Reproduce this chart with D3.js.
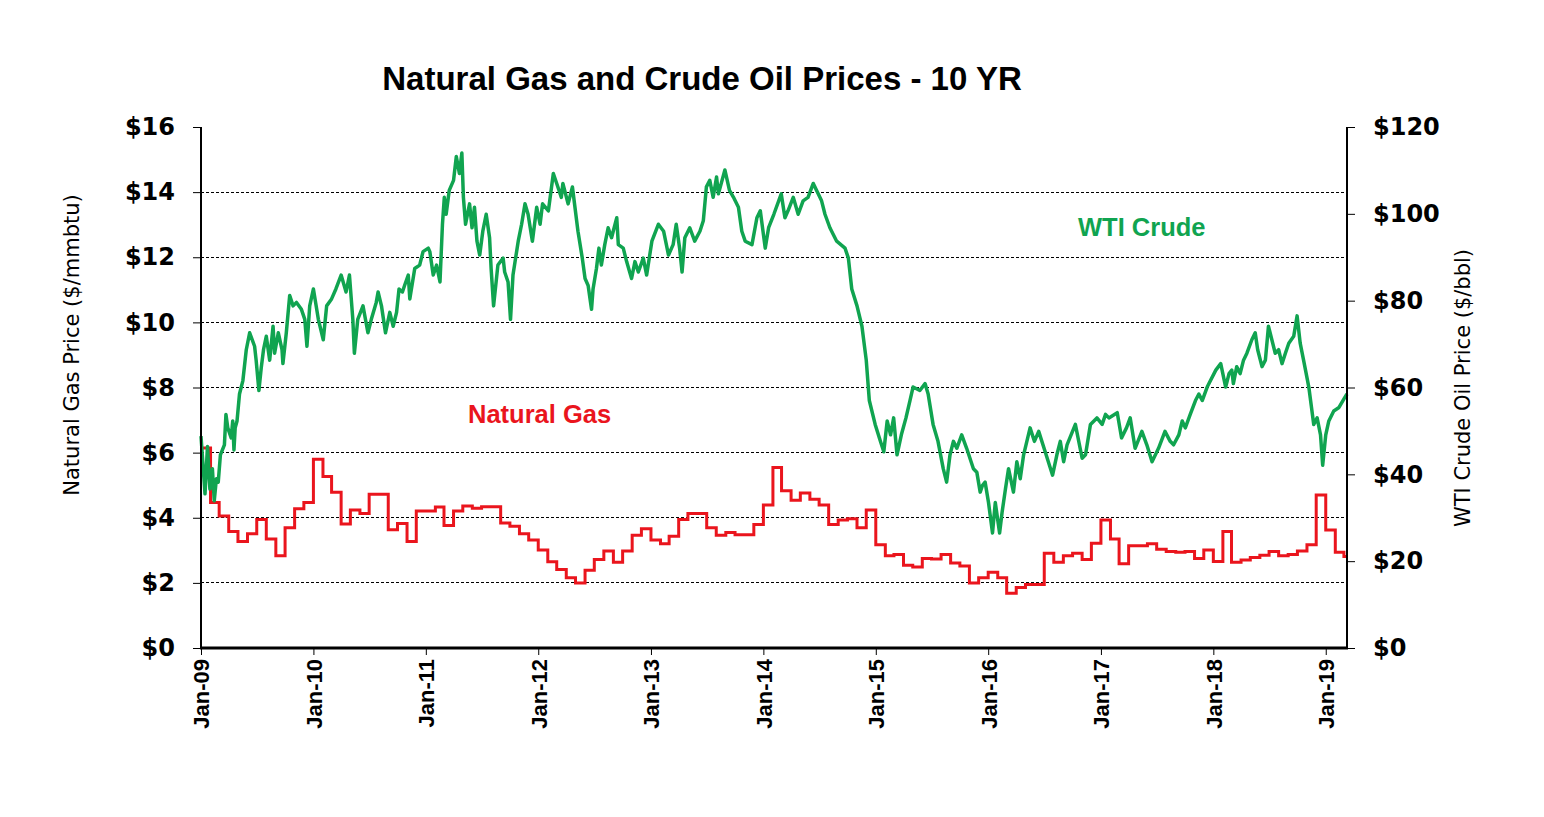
<!DOCTYPE html>
<html>
<head>
<meta charset="utf-8">
<script src="https://cdn.jsdelivr.net/npm/d3@7"></script>
<style>
  html, body { margin: 0; padding: 0; background: #fff; }
  svg { display: block; }
</style>
</head>
<body>
<svg id="chart" width="1544" height="817"></svg>
<script>
// ---------------- DATA ----------------
const chartTitle = "Natural Gas and Crude Oil Prices - 10 YR";
const leftAxisTitle = "Natural Gas Price ($/mmbtu)";
const rightAxisTitle = "WTI Crude Oil Price ($/bbl)";
const gasLabel = "Natural Gas";
const crudeLabel = "WTI Crude";

const gasTicks = [0, 2, 4, 6, 8, 10, 12, 14, 16];
const crudeTicks = [0, 20, 40, 60, 80, 100, 120];
const yearTicks = ["2009","2010","2011","2012","2013","2014","2015","2016","2017","2018","2019"];
const dateStart = "2009-01-01";
const dateEnd = "2019-03-11";

// Natural gas, monthly ($/mmbtu), starting Jan 2009
const gasStartMonth = "2009-01-01";
const gasValues = [
  6.14, 4.47, 4.05, 3.58, 3.27, 3.51, 3.95, 3.35, 2.83, 3.69, 4.28, 4.47,
  5.80, 5.27, 4.78, 3.81, 4.24, 4.13, 4.72, 4.72, 3.63, 3.82, 3.27, 4.21,
  4.21, 4.33, 3.76, 4.21, 4.36, 4.29, 4.34, 4.34, 3.84, 3.74, 3.51, 3.32,
  3.01, 2.65, 2.41, 2.16, 2.00, 2.39, 2.72, 2.98, 2.63, 2.98, 3.46, 3.66,
  3.32, 3.20, 3.43, 3.95, 4.13, 4.13, 3.69, 3.46, 3.55, 3.48, 3.48, 3.79,
  4.39, 5.54, 4.83, 4.54, 4.76, 4.57, 4.39, 3.79, 3.93, 3.97, 3.69, 4.24,
  3.17, 2.83, 2.87, 2.54, 2.49, 2.75, 2.73, 2.87, 2.61, 2.52, 2.00, 2.16,
  2.33, 2.16, 1.68, 1.86, 1.95, 1.95, 2.91, 2.63, 2.83, 2.91, 2.72, 3.22,
  3.93, 3.35, 2.59, 3.14, 3.14, 3.20, 3.03, 2.96, 2.94, 2.96, 2.75, 3.01,
  2.66, 3.58, 2.63, 2.70, 2.78, 2.85, 2.96, 2.83, 2.87, 2.98, 3.17, 4.70,
  3.62, 2.94, 2.81
];

// WTI crude ($/bbl)
const crudeSeries = [
  ["2009-01-01",48.8],["2009-01-14",35.5],["2009-01-22",46.4],["2009-01-30",36.6],
  ["2009-02-07",41.3],["2009-02-13",33.9],["2009-02-20",39.0],["2009-02-26",38.2],
  ["2009-03-05",44.5],["2009-03-18",46.8],["2009-03-23",53.8],["2009-03-29",50.7],
  ["2009-04-09",48.4],["2009-04-14",52.3],["2009-04-18",45.6],["2009-04-22",50.7],
  ["2009-04-28",52.3],["2009-05-06",58.5],["2009-05-17",61.6],["2009-05-28",68.7],
  ["2009-06-08",72.6],["2009-06-24",69.5],["2009-06-29",66.3],["2009-07-08",59.3],
  ["2009-07-16",64.8],["2009-07-23",68.7],["2009-08-01",71.8],["2009-08-12",66.3],
  ["2009-08-23",74.1],["2009-08-28",67.9],["2009-09-09",72.6],["2009-09-21",68.7],
  ["2009-09-24",65.5],["2009-10-05",72.6],["2009-10-16",81.2],["2009-10-27",78.8],
  ["2009-11-07",79.6],["2009-11-23",78.0],["2009-12-04",75.7],["2009-12-11",69.5],
  ["2009-12-20",78.8],["2010-01-01",82.7],["2010-01-17",75.7],["2010-02-02",71.0],
  ["2010-02-13",78.8],["2010-03-01",80.4],["2010-03-15",82.7],["2010-04-01",85.9],
  ["2010-04-17",82.0],["2010-04-28",85.9],["2010-05-09",75.7],["2010-05-14",67.9],
  ["2010-05-25",75.7],["2010-06-11",78.8],["2010-06-27",72.6],["2010-07-08",75.7],
  ["2010-07-24",79.6],["2010-07-30",82.0],["2010-08-10",78.8],["2010-08-23",72.6],
  ["2010-09-06",77.3],["2010-09-17",74.1],["2010-09-28",77.3],["2010-10-06",82.7],
  ["2010-10-17",82.0],["2010-10-24",83.5],["2010-11-05",85.9],["2010-11-10",80.4],
  ["2010-11-26",87.4],["2010-12-12",88.2],["2010-12-23",91.3],["2011-01-09",92.1],
  ["2011-01-14",91.3],["2011-01-25",85.9],["2011-02-05",88.2],["2011-02-16",84.3],
  ["2011-02-24",97.6],["2011-03-02",103.8],["2011-03-08",99.9],["2011-03-18",105.4],
  ["2011-04-01",107.7],["2011-04-10",113.2],["2011-04-20",109.3],["2011-04-28",114.0],
  ["2011-05-03",103.8],["2011-05-10",97.6],["2011-05-23",102.3],["2011-05-31",96.8],
  ["2011-06-08",101.5],["2011-06-16",93.7],["2011-06-25",90.5],["2011-07-05",96.0],
  ["2011-07-16",99.9],["2011-07-27",94.5],["2011-08-01",87.4],["2011-08-09",78.8],
  ["2011-08-23",88.2],["2011-09-09",89.8],["2011-09-14",86.6],["2011-09-25",84.3],
  ["2011-10-03",75.7],["2011-10-11",85.9],["2011-10-28",93.7],["2011-11-08",97.6],
  ["2011-11-19",102.3],["2011-11-29",99.9],["2011-12-13",93.7],["2011-12-27",101.5],
  ["2012-01-07",97.6],["2012-01-15",102.3],["2012-02-03",100.7],["2012-02-19",109.3],
  ["2012-03-01",107.0],["2012-03-16",103.8],["2012-03-21",107.0],["2012-04-07",102.3],
  ["2012-04-21",106.2],["2012-05-09",96.0],["2012-05-23",89.8],["2012-06-01",85.1],
  ["2012-06-11",83.5],["2012-06-22",78.0],["2012-06-27",82.7],["2012-07-08",87.4],
  ["2012-07-16",92.1],["2012-07-24",88.2],["2012-08-04",92.9],["2012-08-15",96.8],
  ["2012-08-26",94.5],["2012-09-12",99.1],["2012-09-17",92.9],["2012-10-03",92.1],
  ["2012-10-14",89.0],["2012-10-30",85.1],["2012-11-10",89.0],["2012-11-21",86.6],
  ["2012-12-07",89.8],["2012-12-18",85.9],["2013-01-04",93.7],["2013-01-25",97.6],
  ["2013-02-11",96.0],["2013-02-27",90.5],["2013-03-14",92.9],["2013-03-24",97.6],
  ["2013-04-04",92.1],["2013-04-12",86.6],["2013-04-21",94.5],["2013-05-07",96.8],
  ["2013-05-23",93.7],["2013-06-09",96.0],["2013-06-20",98.4],["2013-06-30",106.2],
  ["2013-07-11",107.7],["2013-07-22",103.8],["2013-08-02",108.5],["2013-08-08",104.6],
  ["2013-08-29",110.1],["2013-09-13",105.4],["2013-09-26",103.8],["2013-10-12",101.5],
  ["2013-10-23",96.0],["2013-11-03",93.7],["2013-11-25",92.9],["2013-12-11",99.1],
  ["2013-12-22",100.7],["2014-01-07",92.1],["2014-01-18",96.8],["2014-02-04",99.9],
  ["2014-02-28",104.6],["2014-03-12",99.1],["2014-03-22",100.7],["2014-04-08",103.8],
  ["2014-04-24",99.9],["2014-05-10",103.0],["2014-05-26",103.8],["2014-06-12",107.0],
  ["2014-06-28",104.6],["2014-07-09",103.0],["2014-07-20",99.9],["2014-08-05",96.8],
  ["2014-08-27",93.7],["2014-09-23",92.1],["2014-10-04",89.8],["2014-10-15",82.7],
  ["2014-11-01",78.8],["2014-11-17",74.1],["2014-12-01",66.3],["2014-12-11",57.0],
  ["2014-12-30",51.5],["2015-01-16",47.6],["2015-01-27",45.2],["2015-02-07",52.3],
  ["2015-02-18",49.1],["2015-02-28",53.0],["2015-03-11",44.5],["2015-03-25",49.1],
  ["2015-04-09",53.0],["2015-04-22",57.0],["2015-05-02",60.1],["2015-05-24",59.3],
  ["2015-06-10",60.9],["2015-06-20",58.5],["2015-07-06",51.5],["2015-07-22",47.6],
  ["2015-08-08",41.3],["2015-08-19",38.2],["2015-08-30",44.5],["2015-09-10",47.6],
  ["2015-09-21",46.0],["2015-10-07",49.1],["2015-10-23",46.0],["2015-11-14",41.3],
  ["2015-11-25",40.5],["2015-12-06",35.9],["2015-12-13",37.4],["2015-12-22",38.2],
  ["2016-01-02",33.5],["2016-01-15",26.5],["2016-01-24",33.5],["2016-02-07",26.5],
  ["2016-02-15",31.2],["2016-02-26",36.6],["2016-03-07",41.3],["2016-03-23",35.9],
  ["2016-04-03",42.9],["2016-04-14",39.0],["2016-04-25",44.5],["2016-05-16",50.7],
  ["2016-05-30",47.6],["2016-06-13",49.9],["2016-07-04",45.2],["2016-07-28",39.8],
  ["2016-08-11",44.5],["2016-08-22",47.6],["2016-09-02",42.9],["2016-09-13",46.8],
  ["2016-10-10",51.5],["2016-11-01",43.7],["2016-11-12",44.5],["2016-11-28",51.5],
  ["2016-12-19",53.0],["2017-01-05",51.5],["2017-01-16",53.8],["2017-01-27",53.0],
  ["2017-02-23",54.2],["2017-03-09",48.4],["2017-03-25",50.7],["2017-04-06",53.0],
  ["2017-04-22",46.0],["2017-05-14",49.9],["2017-05-30",46.8],["2017-06-16",42.9],
  ["2017-07-07",46.0],["2017-07-28",49.9],["2017-08-14",47.6],["2017-08-25",46.8],
  ["2017-09-11",49.1],["2017-09-22",52.3],["2017-10-02",50.7],["2017-10-18",53.8],
  ["2017-11-04",57.0],["2017-11-15",58.5],["2017-11-26",57.0],["2017-12-12",60.1],
  ["2018-01-09",64.0],["2018-01-25",65.5],["2018-02-10",60.1],["2018-02-21",63.2],
  ["2018-03-02",64.0],["2018-03-07",60.9],["2018-03-18",64.8],["2018-03-29",63.2],
  ["2018-04-09",66.3],["2018-04-20",67.9],["2018-05-06",71.0],["2018-05-17",72.6],
  ["2018-05-25",68.7],["2018-06-08",64.8],["2018-06-19",66.3],["2018-06-29",74.1],
  ["2018-07-10",71.0],["2018-07-21",67.9],["2018-08-01",68.7],["2018-08-12",65.5],
  ["2018-08-23",67.9],["2018-09-03",70.2],["2018-09-19",71.8],["2018-09-30",76.5],
  ["2018-10-10",70.2],["2018-10-21",66.3],["2018-11-07",60.1],["2018-11-23",51.5],
  ["2018-12-04",53.0],["2018-12-15",49.1],["2018-12-22",42.1],["2019-01-01",49.1],
  ["2019-01-11",52.3],["2019-01-27",54.6],["2019-02-13",55.4],["2019-03-04",57.7],
  ["2019-03-11",58.5]
];

// ---------------- CHART ----------------
const parse = d3.timeParse("%Y-%m-%d");
const GREEN = "#10a450";
const RED = "#ea151d";

const plot = { left: 201, right: 1347, top: 127, bottom: 648 };

const svg = d3.select("#chart");

const x = d3.scaleTime()
  .domain([parse(dateStart), parse(dateEnd)])
  .range([plot.left, plot.right]);
const yGas = d3.scaleLinear().domain([0, 16]).range([plot.bottom, plot.top]);
const yCrude = d3.scaleLinear().domain([0, 120]).range([plot.bottom, plot.top]);

// gridlines
svg.append("g")
  .selectAll("line")
  .data(gasTicks.filter(d => d > 0 && d < 16))
  .join("line")
  .attr("x1", plot.left).attr("x2", plot.right)
  .attr("y1", d => yGas(d)).attr("y2", d => yGas(d))
  .attr("stroke", "#000").attr("stroke-width", 1)
  .attr("stroke-dasharray", "3,2")
  .attr("shape-rendering", "crispEdges");

// gas series (monthly step)
const gasStart = parse(gasStartMonth);
const gasData = gasValues.map((v, i) => ({ date: d3.timeMonth.offset(gasStart, i), value: v }));
const gasDraw = gasData.concat([{ date: x.domain()[1], value: gasValues[gasValues.length - 1] }]);

const gasLine = d3.line()
  .x(d => x(d.date)).y(d => yGas(d.value))
  .curve(d3.curveStepAfter);

svg.append("path")
  .datum(gasDraw)
  .attr("d", gasLine)
  .attr("fill", "none")
  .attr("stroke", RED)
  .attr("stroke-width", 3)
  .attr("stroke-linejoin", "miter");

// crude series
const crudeData = crudeSeries.map(d => ({ date: parse(d[0]), value: d[1] }));
const crudeLine = d3.line()
  .x(d => x(d.date)).y(d => yCrude(d.value));

svg.append("path")
  .datum(crudeData)
  .attr("d", crudeLine)
  .attr("fill", "none")
  .attr("stroke", GREEN)
  .attr("stroke-width", 3.5)
  .attr("stroke-linejoin", "round");

// axes
const tickFontFamily = "'DejaVu Sans', sans-serif";

const leftAxis = d3.axisLeft(yGas)
  .tickValues(gasTicks)
  .tickFormat(d => "$" + d)
  .tickSize(8)
  .tickPadding(18);
const gL = svg.append("g").attr("transform", `translate(${plot.left},0)`).call(leftAxis);
gL.select(".domain").remove();
gL.selectAll(".tick line").attr("stroke", "#000").attr("stroke-width", 1);
gL.selectAll(".tick text")
  .attr("font-family", tickFontFamily).attr("font-weight", "bold")
  .attr("font-size", 24).attr("fill", "#000");

const rightAxis = d3.axisRight(yCrude)
  .tickValues(crudeTicks)
  .tickFormat(d => "$" + d)
  .tickSize(8)
  .tickPadding(18);
const gR = svg.append("g").attr("transform", `translate(${plot.right},0)`).call(rightAxis);
gR.select(".domain").remove();
gR.selectAll(".tick line").attr("stroke", "#000").attr("stroke-width", 1);
gR.selectAll(".tick text")
  .attr("font-family", tickFontFamily).attr("font-weight", "bold")
  .attr("font-size", 24).attr("fill", "#000");

const bottomAxis = d3.axisBottom(x)
  .tickValues(yearTicks.map(y => parse(y + "-01-01")))
  .tickFormat(d3.timeFormat("%b-%y"))
  .tickSize(7);
const gB = svg.append("g").attr("transform", `translate(0,${plot.bottom})`).call(bottomAxis);
gB.select(".domain").remove();
gB.selectAll(".tick line").attr("stroke", "#000").attr("stroke-width", 1);
gB.selectAll(".tick text")
  .attr("font-family", "'Liberation Sans', Arial, sans-serif").attr("font-weight", "bold")
  .attr("font-size", 22).attr("fill", "#000")
  .attr("text-anchor", "end")
  .attr("transform", "rotate(-90)")
  .attr("x", -11).attr("y", 0).attr("dy", "0.36em");

// axis lines
svg.append("line")
  .attr("x1", plot.left).attr("x2", plot.left)
  .attr("y1", plot.top).attr("y2", plot.bottom + 1)
  .attr("stroke", "#000").attr("stroke-width", 2);
svg.append("line")
  .attr("x1", plot.right).attr("x2", plot.right)
  .attr("y1", plot.top).attr("y2", plot.bottom + 1)
  .attr("stroke", "#000").attr("stroke-width", 2);
svg.append("line")
  .attr("x1", plot.left - 1).attr("x2", plot.right + 1)
  .attr("y1", plot.bottom).attr("y2", plot.bottom)
  .attr("stroke", "#000").attr("stroke-width", 3);

// title
svg.append("text")
  .attr("x", 702).attr("y", 90)
  .attr("text-anchor", "middle")
  .attr("font-family", "'Liberation Sans', Arial, sans-serif")
  .attr("font-weight", "bold").attr("font-size", 33)
  .attr("fill", "#000")
  .text(chartTitle);

// axis titles
svg.append("text")
  .attr("transform", "translate(79,345) rotate(-90)")
  .attr("text-anchor", "middle")
  .attr("font-family", "'DejaVu Sans', sans-serif")
  .attr("font-size", 21).attr("fill", "#000")
  .text(leftAxisTitle);
svg.append("text")
  .attr("transform", "translate(1470,388) rotate(-90)")
  .attr("text-anchor", "middle")
  .attr("font-family", "'DejaVu Sans', sans-serif")
  .attr("font-size", 21).attr("fill", "#000")
  .text(rightAxisTitle);

// series labels
svg.append("text")
  .attr("x", 468).attr("y", 423)
  .attr("font-family", "'Liberation Sans', Arial, sans-serif")
  .attr("font-weight", "bold").attr("font-size", 25.5)
  .attr("fill", RED)
  .text(gasLabel);
svg.append("text")
  .attr("x", 1078).attr("y", 236)
  .attr("font-family", "'Liberation Sans', Arial, sans-serif")
  .attr("font-weight", "bold").attr("font-size", 25.5)
  .attr("fill", GREEN)
  .text(crudeLabel);
</script>
</body>
</html>
